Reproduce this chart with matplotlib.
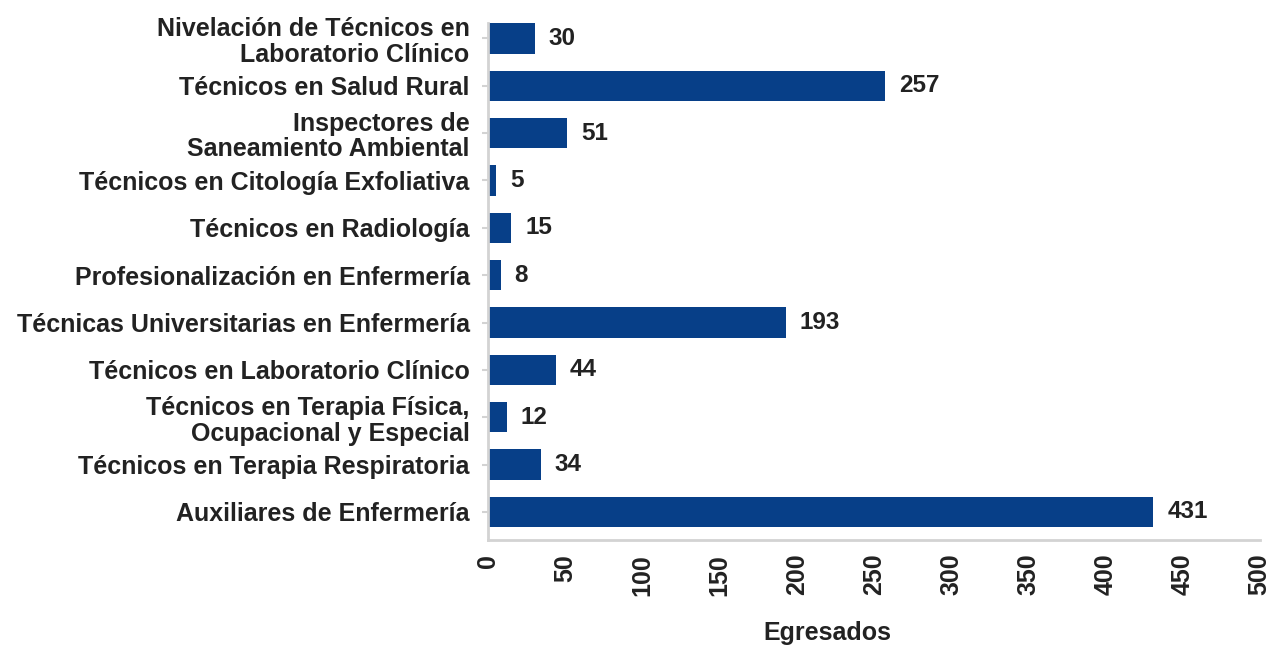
import matplotlib
matplotlib.use("Agg")
import matplotlib.pyplot as plt

plt.rcParams["font.family"] = ["Liberation Sans", "DejaVu Sans"]
plt.rcParams["font.weight"] = "bold"

# bottom to top
categorias = [
    "Auxiliares de Enfermería",
    "Técnicos en Terapia Respiratoria",
    "Técnicos en Terapia Física,\nOcupacional y Especial",
    "Técnicos en Laboratorio Clínico",
    "Técnicas Universitarias en Enfermería",
    "Profesionalización en Enfermería",
    "Técnicos en Radiología",
    "Técnicos en Citología Exfoliativa",
    "Inspectores de\nSaneamiento Ambiental",
    "Técnicos en Salud Rural",
    "Nivelación de Técnicos en\nLaboratorio Clínico",
]
egresados = [431, 34, 12, 44, 193, 8, 15, 5, 51, 257, 30]
xticks = [0, 50, 100, 150, 200, 250, 300, 350, 400, 450, 500]

BAR = "#073F88"
GRIS = "#d3d3d3"
TXT = "#222222"

fig = plt.figure(figsize=(12.75, 6.45), dpi=100)
ax = fig.add_axes([0.383, 0.163, 0.605, 0.801])

pos = range(len(categorias))
ax.barh(pos, egresados, height=0.64, color=BAR)
for y, v in zip(pos, egresados):
    ax.text(v + 9, y, str(v), va="center", ha="left", fontsize=17.5,
            fontweight="bold", color=TXT)

ax.set_yticks(list(pos))
ax.set_yticklabels(categorias, fontsize=18, color=TXT, linespacing=1.1)
ax.set_xticks(xticks)
ax.set_xticklabels([str(t) for t in xticks], rotation=90, fontsize=18, color=TXT)
ax.set_xlim(0, 500)
ax.set_ylim(-0.59, 10.32)

for s in ("top", "right"):
    ax.spines[s].set_visible(False)
for s in ("left", "bottom"):
    ax.spines[s].set_color(GRIS)
    ax.spines[s].set_linewidth(2)
ax.tick_params(axis="y", color=GRIS, length=4, width=1.5, pad=9.5)
ax.tick_params(axis="x", length=0, pad=10)

ax.set_xlabel("Egresados", fontsize=18, fontweight="bold", color=TXT)
ax.xaxis.set_label_coords(0.44, -0.158)

fig.savefig("out.png", dpi=100)
